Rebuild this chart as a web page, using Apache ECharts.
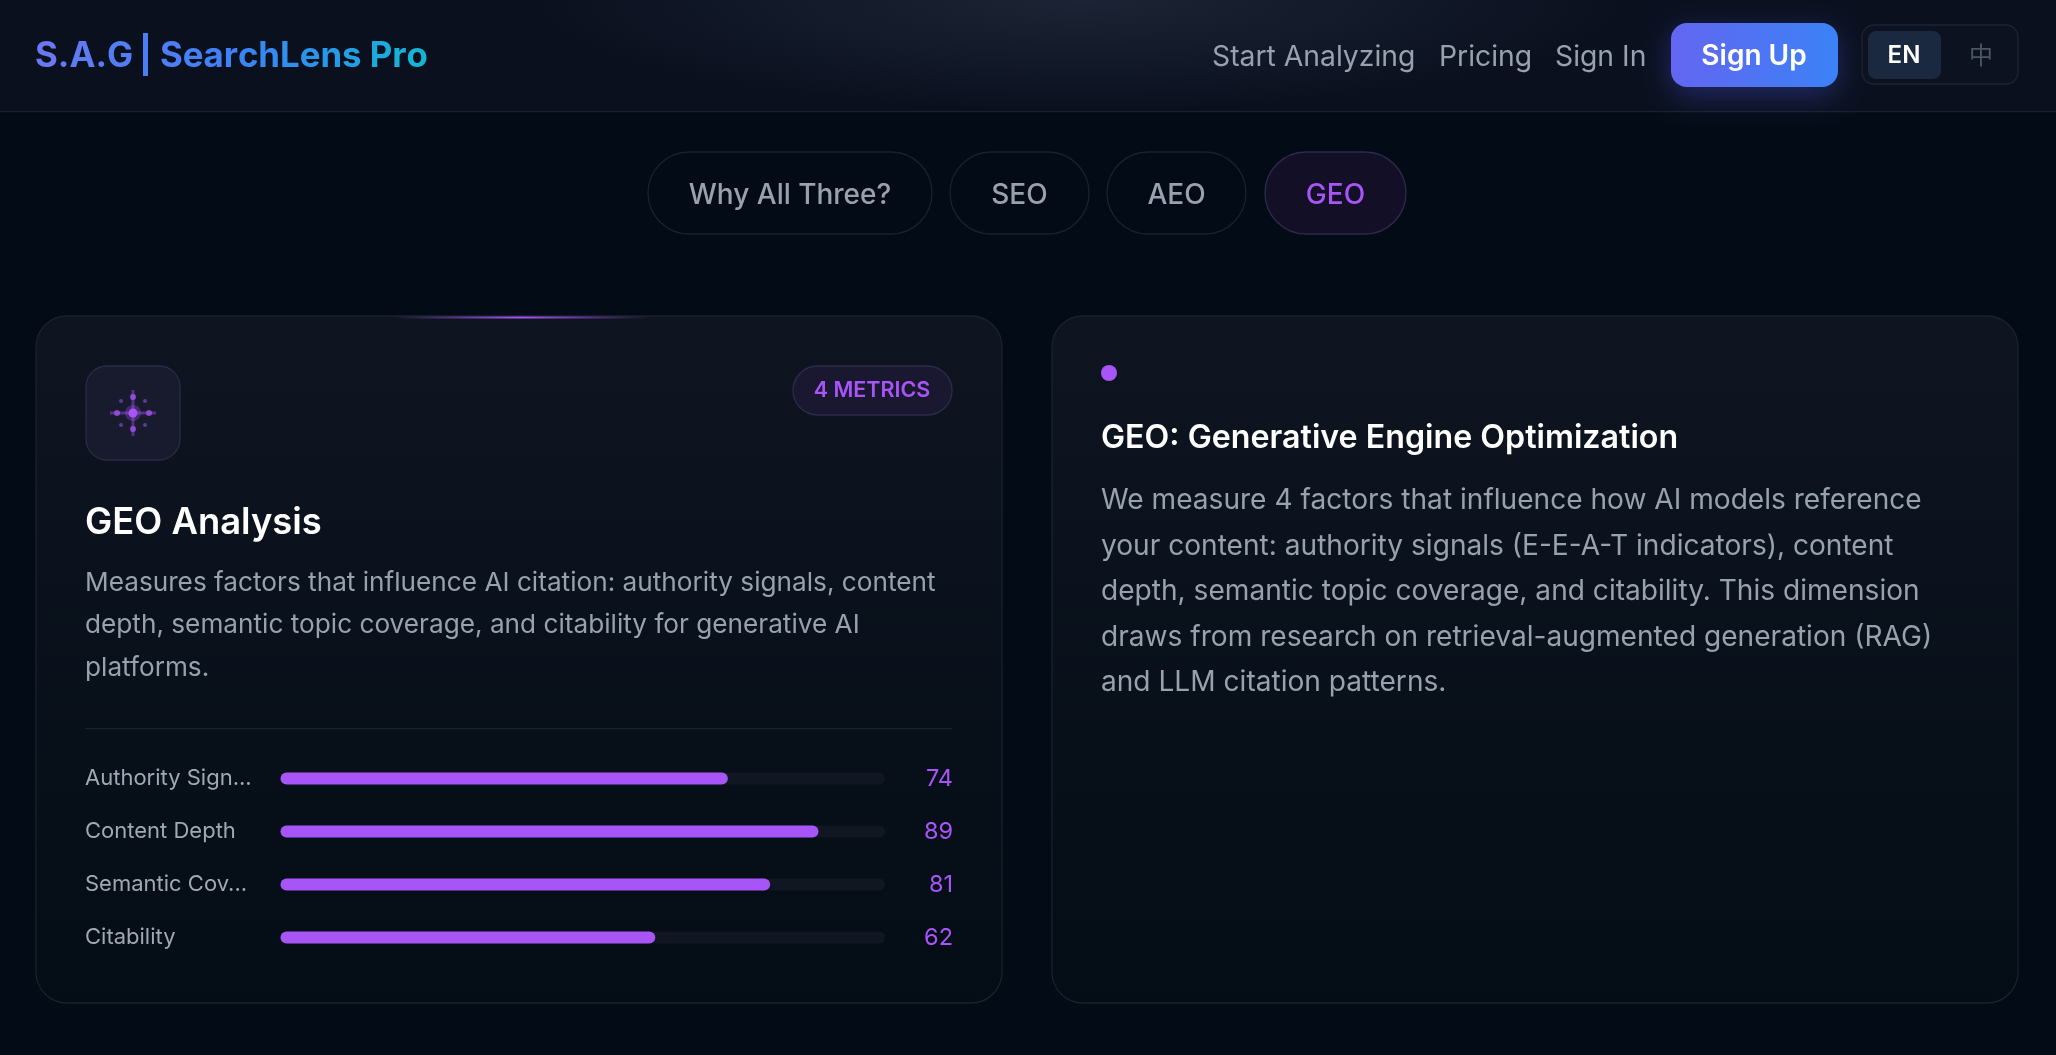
<!DOCTYPE html>
<html>
<head>
<meta charset="utf-8">
<title>GEO Analysis</title>
<style>
  html, body { margin: 0; height: 100%; background: #030c16; }
  #chart { width: 100%; height: 100%; }
</style>
<script src="https://cdn.jsdelivr.net/npm/echarts@6/dist/echarts.min.js"></script>
</head>
<body>
<div id="chart"></div>
<script>
var metricLabels = ['Authority Sign...', 'Content Depth', 'Semantic Cov...', 'Citability'];
var metricValues = [74, 89, 81, 62];
var navLinks = ['Start Analyzing', 'Pricing', 'Sign In'];
var tabLabels = ['Why All Three?', 'SEO', 'AEO', 'GEO'];
var leftText = [
  'Measures factors that influence AI citation: authority signals, content',
  'depth, semantic topic coverage, and citability for generative AI',
  'platforms.'
];
var rightText = [
  'We measure 4 factors that influence how AI models reference',
  'your content: authority signals (E-E-A-T indicators), content',
  'depth, semantic topic coverage, and citability. This dimension',
  'draws from research on retrieval-augmented generation (RAG)',
  'and LLM citation patterns.'
];

var FONT = 'Inter';
var PURPLE = '#a855f7';
var GREY = '#98a1ae';

function text(x, y, str, size, fill, weight, align) {
  return {
    type: 'text', x: x, y: y,
    style: {
      text: str, fill: fill, fontFamily: FONT, fontSize: size,
      fontWeight: weight || 400, align: align || 'left', verticalAlign: 'middle'
    }
  };
}
function box(x, y, w, h, r, fill, stroke, extra) {
  var style = { fill: fill, stroke: stroke || null, lineWidth: stroke ? 1.3 : 0 };
  for (var k in extra) style[k] = extra[k];
  return { type: 'rect', shape: { x: x, y: y, width: w, height: h, r: r }, style: style };
}
function dot(x, y, r, fill, opacity) {
  return { type: 'circle', shape: { cx: x, cy: y, r: r }, style: { fill: fill, opacity: opacity } };
}
function vgrad(a, b) { return new echarts.graphic.LinearGradient(0, 0, 0, 1, [{ offset: 0, color: a }, { offset: 1, color: b }]); }
function hgrad(stops) { return new echarts.graphic.LinearGradient(0, 0, 1, 0, stops); }

// canvas text takes no gradient fill, so the logo gets one colour per letter
function logoColor(t) {
  var a = t < 0.5 ? [106, 120, 242] : [59, 130, 246];
  var b = t < 0.5 ? [59, 130, 246] : [18, 181, 214];
  var f = t < 0.5 ? t * 2 : t * 2 - 1;
  return 'rgb(' + a.map(function (v, i) { return Math.round(v + (b[i] - v) * f); }).join(',') + ')';
}
function logoText(x, str, from, to) {
  var rich = {}, out = '';
  str.split('').forEach(function (c, i) {
    rich['c' + i] = {
      fill: logoColor(from + (to - from) * i / (str.length - 1)),
      fontFamily: FONT, fontSize: 34.8, fontWeight: 700
    };
    out += '{c' + i + '|' + c + '}';
  });
  return { type: 'text', x: x, y: 57, style: { text: out, rich: rich, verticalAlign: 'middle' } };
}

var g = [];

// header
g.push(box(0, 0, 2056, 111, 0, '#0a101e'));
g.push({
  type: 'rect', x: 1080, y: 0, scaleY: 0.2,
  shape: { x: -550, y: 0, width: 1100, height: 550 },
  style: { fill: new echarts.graphic.RadialGradient(0.5, 0, 1, [
    { offset: 0, color: 'rgba(50,60,80,0.45)' }, { offset: 1, color: 'rgba(50,60,80,0)' }
  ]) }
});
g.push(box(0, 111, 2056, 1.3, 0, '#1a212d'));

g.push(logoText(35, 'S.A.G', 0, 0.25));
g.push(box(143, 33, 5, 43, 0, '#4a7ff4'));
g.push(logoText(160, 'SearchLens Pro', 0.32, 1));

var navX = [1212, 1439, 1555];
navLinks.forEach(function (n, i) { g.push(text(navX[i], 57, n, 28.3, GREY)); });

g.push(box(1671, 23, 167, 64, 16, hgrad([{ offset: 0, color: '#6366f1' }, { offset: 1, color: '#3b82f6' }]), null, {
  shadowBlur: 30, shadowOffsetY: 8, shadowColor: 'rgba(79,90,240,0.35)'
}));
g.push(text(1754, 57, 'Sign Up', 28, '#ffffff', 600, 'center'));

g.push(box(1862, 25, 156, 59, 12, '#0c1220', '#1c2432'));
g.push(box(1868, 31, 73, 48, 8, '#1a2940'));
g.push(text(1904, 56, 'EN', 24, '#ffffff', 600, 'center'));
g.push({
  type: 'text', x: 1981, y: 55,
  style: { text: '中', fill: '#4b5563', fontFamily: 'Noto Sans CJK SC', fontSize: 24, align: 'center', verticalAlign: 'middle' }
});

// tabs
var tabX = [648, 950, 1107, 1265];
var tabW = [284, 139, 139, 141];
tabLabels.forEach(function (t, i) {
  var active = t === 'GEO';
  g.push(box(tabX[i], 152, tabW[i], 82, 41, active ? '#120f26' : 'rgba(0,0,0,0)', active ? '#30284f' : '#1a212c'));
  g.push(text(tabX[i] + tabW[i] / 2, 196, t, 28, active ? PURPLE : GREY, 500, 'center'));
});

// cards
g.push(box(36, 316, 966, 687, 31, vgrad('#0e1520', '#040c16'), '#1a212c'));
g.push(box(1052, 316, 966, 687, 31, vgrad('#0e1520', '#040c16'), '#1a212c'));
g.push(box(393, 316.5, 256, 2, 0, hgrad([
  { offset: 0, color: 'rgba(168,85,247,0)' }, { offset: 0.5, color: PURPLE }, { offset: 1, color: 'rgba(168,85,247,0)' }
])));

// icon
g.push(box(86, 366, 94, 94, 21, '#181a2e', '#2a2b45'));
var cx = 133, cy = 413;
g.push(box(cx - 23, cy - 1.5, 46, 3, 0, '#7a45b8', null, { opacity: 0.6 }));
g.push(box(cx - 1.5, cy - 23, 3, 46, 0, '#7a45b8', null, { opacity: 0.6 }));
g.push(dot(cx, cy, 8, PURPLE, 0.3));
g.push(dot(cx, cy, 4.5, PURPLE, 1));
[[16, 0], [-16, 0], [0, 16], [0, -16]].forEach(function (p) { g.push(dot(cx + p[0], cy + p[1], 3, PURPLE, 0.75)); });
[[12, 12], [-12, 12], [12, -12], [-12, -12]].forEach(function (p) { g.push(dot(cx + p[0], cy + p[1], 2, PURPLE, 0.5)); });

// badge
g.push(box(793, 366, 159, 49, 24.5, '#1a1830', '#2e2a4c'));
g.push(text(872, 391, '4 METRICS', 21.5, PURPLE, 600, 'center'));

g.push(text(85, 523, 'GEO Analysis', 36.4, '#ffffff', 600));
var leftY = [583, 625, 668];
leftText.forEach(function (l, i) { g.push(text(85, leftY[i], l, 26.2, GREY)); });
g.push(box(85, 728, 867, 1.3, 0, '#1a212c'));

// right card
g.push(dot(1109, 373, 8, PURPLE, 1));
g.push(text(1101, 438, 'GEO: Generative Engine Optimization', 32.2, '#ffffff', 600));
var rightY = [501, 547, 592, 638, 683];
rightText.forEach(function (l, i) { g.push(text(1101, rightY[i], l, 28.1, GREY)); });

var chart = echarts.init(document.getElementById('chart'));
chart.setOption({
  animation: false,
  backgroundColor: '#030c16',
  graphic: { elements: g },
  grid: { left: 280.5, top: 752, width: 604.5, height: 212 },
  xAxis: { type: 'value', min: 0, max: 100, show: false },
  yAxis: [
    {
      type: 'category', inverse: true, data: metricLabels,
      axisLine: { show: false }, axisTick: { show: false },
      axisLabel: { color: '#a0a8b4', fontFamily: FONT, fontSize: 22, align: 'left', margin: 195.5, padding: [2, 0, 0, 0] }
    },
    {
      type: 'category', inverse: true, position: 'right', data: metricValues,
      axisLine: { show: false }, axisTick: { show: false },
      axisLabel: { color: PURPLE, fontFamily: FONT, fontSize: 23.5, align: 'right', margin: 67, padding: [2, -1, 0, 0] }
    }
  ],
  series: [{
    type: 'bar', data: metricValues, barWidth: 12,
    itemStyle: { color: PURPLE, borderRadius: 6 },
    showBackground: true,
    backgroundStyle: { color: '#111722', borderRadius: 6 }
  }]
});
</script>
</body>
</html>
